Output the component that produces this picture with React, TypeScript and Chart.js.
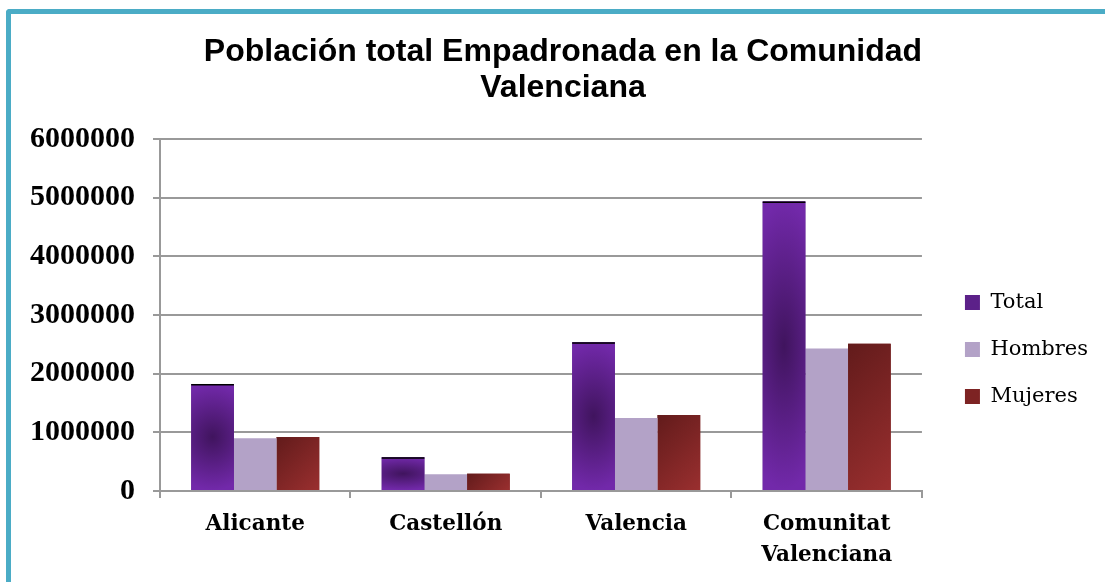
import React, { useEffect, useRef } from 'react';
import { Chart, registerables } from 'chart.js';

Chart.register(...registerables);

const titleLines = ['Población total Empadronada en la Comunidad', 'Valenciana'];
const categories = [['Alicante'], ['Castellón'], ['Valencia'], ['Comunitat', 'Valenciana']];
const seriesNames = ['Total', 'Hombres', 'Mujeres'];
const totalValues = [1824000, 575000, 2535000, 4935000];
const hombresValues = [898000, 285000, 1244000, 2430000];
const mujeresValues = [920000, 295000, 1295000, 2510000];
const yMin = 0;
const yMax = 6000000;
const yStep = 1000000;

const barEffects = {
  id: 'barEffects',
  afterDatasetDraw(chart: any, args: any) {
    const idx = args.index;
    if (idx === 1) return;
    const ctx = chart.ctx;
    args.meta.data.forEach((el: any) => {
      const { x, y, base, width } = el.getProps(['x', 'y', 'base', 'width'], true);
      const left = x - width / 2;
      const top = Math.min(y, base);
      const h = Math.abs(base - y);
      ctx.save();
      if (idx === 0) {
        const sx = width * 1.1;
        const sy = h / 2;
        ctx.translate(x, top + h / 2);
        ctx.scale(sx, sy);
        const g = ctx.createRadialGradient(0, 0, 0, 0, 0, 1);
        g.addColorStop(0, '#40145e');
        g.addColorStop(1, '#7229aa');
        ctx.fillStyle = g;
        ctx.fillRect(-width / 2 / sx, -1, width / sx, 2);
        ctx.setTransform(1, 0, 0, 1, 0, 0);
        ctx.fillStyle = '#000';
        ctx.fillRect(left, top, width, 1.5);
      } else {
        const d = (width + h) / 2;
        const g = ctx.createLinearGradient(left, top, left + d, top + d);
        g.addColorStop(0, '#621b1b');
        g.addColorStop(1, '#9a2f2f');
        ctx.fillStyle = g;
        ctx.fillRect(left, top, width, h);
      }
      ctx.restore();
    });
  },
};

export default function App() {
  const ref = useRef<HTMLCanvasElement | null>(null);

  useEffect(() => {
    if (!ref.current) return;
    const chart = new Chart(ref.current, {
      type: 'bar',
      data: {
        labels: categories,
        datasets: [
          { label: seriesNames[0], data: totalValues, backgroundColor: '#5c2189' },
          { label: seriesNames[1], data: hombresValues, backgroundColor: '#b3a2c7' },
          { label: seriesNames[2], data: mujeresValues, backgroundColor: '#7d2323' },
        ],
      },
      options: {
        responsive: false,
        animation: false,
        datasets: { bar: { categoryPercentage: 0.672, barPercentage: 1.0 } },
        layout: { padding: 0 },
        scales: {
          x: {
            type: 'category',
            offset: true,
            grid: {
              display: true,
              drawOnChartArea: false,
              drawTicks: true,
              tickLength: 7,
              color: '#999999',
              lineWidth: 2,
              offset: true,
            },
            border: { display: true, color: '#999999', width: 2 },
            ticks: {
              color: '#000',
              font: { family: 'DejaVu Serif', weight: 'bold', size: 21.5, lineHeight: 31 / 21.5 },
              padding: 11,
              maxRotation: 0,
              autoSkip: false,
            },
            afterFit: (s: any) => {
              s.height = 91;
            },
          },
          y: {
            min: yMin,
            max: yMax,
            grid: { color: '#999999', lineWidth: 2, tickLength: 7, drawTicks: true },
            border: { display: true, color: '#999999', width: 2 },
            ticks: {
              stepSize: yStep,
              color: '#000',
              font: { family: 'Liberation Serif', weight: 'bold', size: 30 },
              padding: 18,
              callback: (v: any) => String(v),
            },
            afterFit: (s: any) => {
              s.width = 132;
            },
          },
          y2: {
            position: 'right',
            display: true,
            grid: { display: false, drawTicks: false },
            border: { display: false },
            ticks: { display: false },
            afterFit: (s: any) => {
              s.width = 17;
            },
          },
        },
        plugins: {
          tooltip: { enabled: false },
          title: {
            display: true,
            text: titleLines,
            color: '#000',
            font: { family: 'Liberation Sans', weight: 'bold', size: 32, lineHeight: 36 / 32 },
            padding: { top: 19, bottom: 33 },
          },
          legend: {
            position: 'right',
            fullSize: false,
            align: 'center',
            title: { display: true, text: '', font: { size: 10 }, padding: { top: 57, bottom: 0 } },
            labels: {
              boxWidth: 15,
              boxHeight: 15,
              color: '#000',
              font: { family: 'DejaVu Serif', size: 21 },
              padding: 26,
            },
          },
        },
      },
      plugins: [barEffects],
    } as any);
    return () => chart.destroy();
  }, []);

  return (
    <div
      style={{
        position: 'fixed',
        left: 0,
        top: 0,
        width: 1105,
        height: 582,
        overflow: 'hidden',
        background: '#fff',
      }}
    >
      <div
        style={{
          position: 'absolute',
          left: 6,
          top: 9,
          width: 1300,
          height: 800,
          borderTop: '5px solid #4bacc6',
          borderLeft: '5px solid #4bacc6',
          borderTopLeftRadius: 4,
        }}
      />
      <canvas
        ref={ref}
        width={1070}
        height={567}
        style={{ position: 'absolute', left: 28, top: 15, width: 1070, height: 567 }}
      />
    </div>
  );
}
